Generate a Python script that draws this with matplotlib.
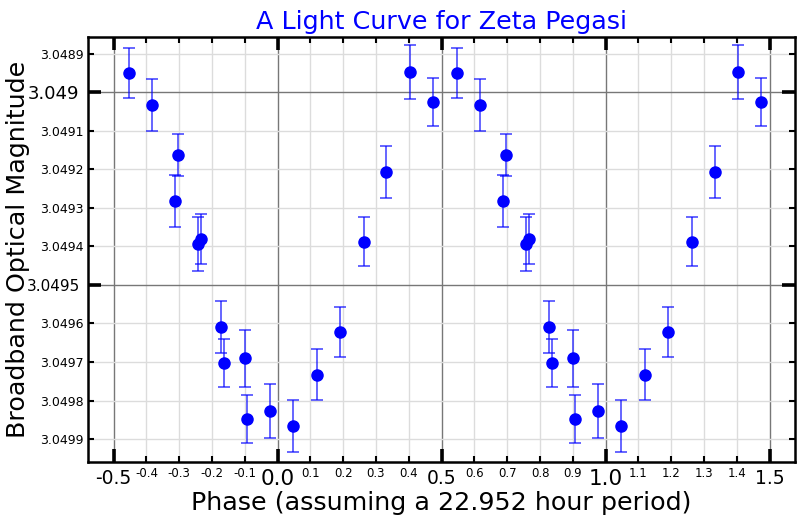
import matplotlib
matplotlib.use("Agg")
import matplotlib.pyplot as plt
import numpy as np

# one cycle of phase-folded photometry; the plot repeats it at phase + 1
phase = [-0.454, -0.383, -0.314, -0.303, -0.242, -0.234, -0.174, -0.164, -0.100,
         -0.094, -0.022, 0.048, 0.119, 0.190, 0.264, 0.332, 0.403, 0.474]
mag = [3.0489506, 3.0490320, 3.0492824, 3.0491620, 3.0493926, 3.0493796,
       3.0496084, 3.0497020, 3.0496906, 3.0498476, 3.0498276, 3.0498658,
       3.0497332, 3.0496222, 3.0493874, 3.0492062, 3.0489470, 3.0490250]
mag_err = [6.5e-5, 6.8e-5, 6.8e-5, 5.5e-5, 7.0e-5, 6.5e-5, 6.7e-5, 6.2e-5, 7.4e-5,
           6.3e-5, 7.0e-5, 6.8e-5, 6.6e-5, 6.4e-5, 6.4e-5, 6.8e-5, 7.0e-5, 6.3e-5]

x_major = [-0.5, 0.0, 0.5, 1.0, 1.5]
x_major_sizes = [13.5, 15.5, 13.5, 15.5, 13.5]
x_minor = [-0.4, -0.3, -0.2, -0.1, 0.1, 0.2, 0.3, 0.4, 0.6, 0.7, 0.8, 0.9,
           1.1, 1.2, 1.3, 1.4]
y_major = [3.049, 3.0495]
y_major_sizes = [13, 11]
y_minor = [3.0489, 3.0491, 3.0492, 3.0493, 3.0494, 3.0496, 3.0497, 3.0498, 3.0499]

plt.rcParams['axes.unicode_minus'] = False
plt.rcParams['font.family'] = 'DejaVu Sans'

fig = plt.figure(figsize=(8, 5.2), dpi=100)
ax = fig.add_axes([0.11, 0.112, 0.884, 0.817])

ph = np.array(phase)
x = np.concatenate([ph, ph + 1])
y = np.concatenate([mag, mag])
err = np.concatenate([mag_err, mag_err])

ax.errorbar(x, y, yerr=err, fmt='none', ecolor=(0, 0, 1, 0.7), elinewidth=1.2,
            capsize=4, capthick=1.2, zorder=3)
ax.plot(x, y, 'o', color='blue', markersize=8, zorder=4)

ax.set_xlim(-0.578, 1.578)
ax.set_ylim(3.049959, 3.048856)

ax.set_xticks(x_major, [f"{v:.1f}" for v in x_major])
ax.set_xticks(x_minor, [f"{v:.1f}" for v in x_minor], minor=True)
ax.set_yticks(y_major, [f"{v:.5f}".rstrip('0') for v in y_major])
ax.set_yticks(y_minor, [f"{v:.5f}".rstrip('0') for v in y_minor], minor=True)

for lab, s in zip(ax.get_xticklabels(), x_major_sizes):
    lab.set_fontsize(s)
for lab, s in zip(ax.get_yticklabels(), y_major_sizes):
    lab.set_fontsize(s)

ax.tick_params(which='both', direction='in', top=True, right=True, color='black')
ax.tick_params(which='major', length=9.5, width=2.6, pad=5)
ax.tick_params(axis='y', which='major', pad=6)
ax.tick_params(which='minor', length=4.5, width=1.5, pad=4)
ax.tick_params(axis='x', which='minor', labelsize=8.5)
ax.tick_params(axis='y', which='minor', labelsize=9, pad=3)

ax.grid(True, which='major', color='#777777', linewidth=1.0, zorder=0)
ax.grid(True, which='minor', color='#dcdcdc', linewidth=1.0, zorder=0)
ax.set_axisbelow(True)

for sp in ax.spines.values():
    sp.set_linewidth(1.8)

ax.set_title('A Light Curve for Zeta Pegasi', color='blue', fontsize=18.3, pad=6)
ax.set_xlabel('Phase (assuming a 22.952 hour period)', fontsize=18.3, labelpad=2)
ax.set_ylabel('Broadband Optical Magnitude', fontsize=18.3)
ax.yaxis.set_label_coords(-0.082, 0.5)

fig.savefig('out.png', dpi=100)
